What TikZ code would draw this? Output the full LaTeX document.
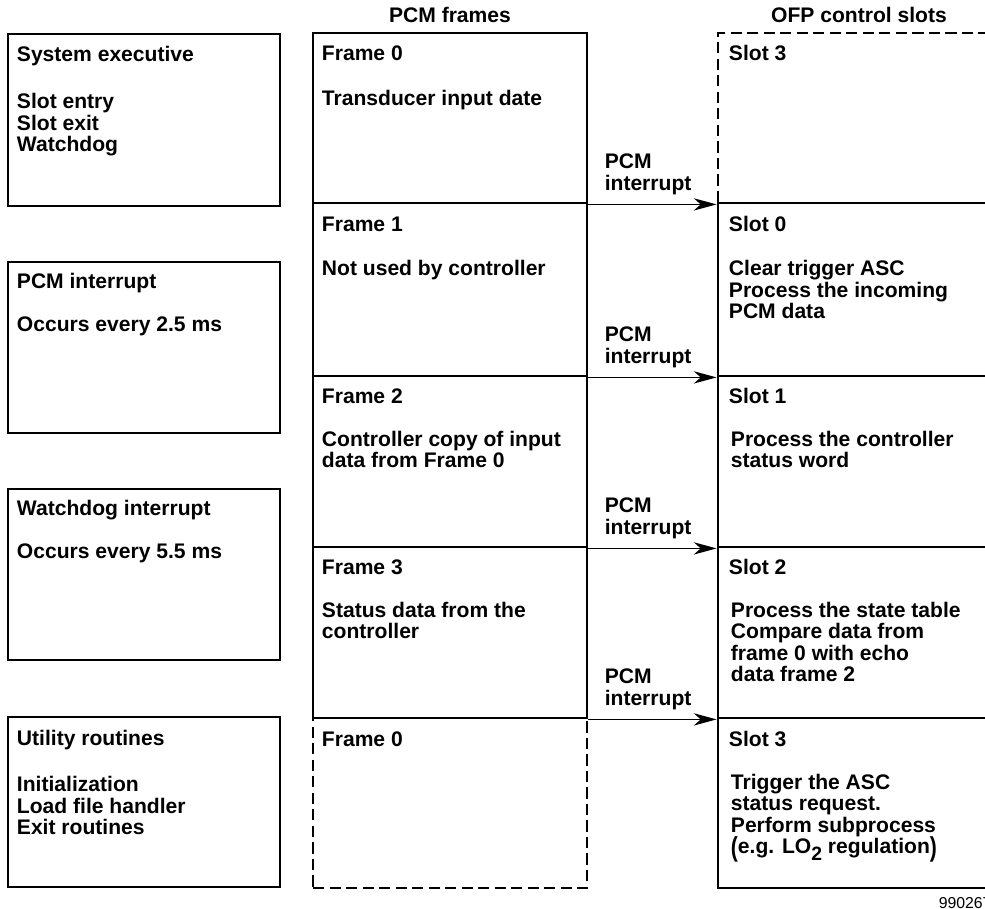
\documentclass[tikz,border=0pt]{standalone}
\usepackage{fontspec}
\setmainfont{Liberation Sans}
\usepackage{tikz}
\usetikzlibrary{arrows.meta,calc,positioning,fit}
\newcommand{\lotwo}{LO\smash{\raisebox{-4pt}{\fontsize{11}{11}\selectfont 2}}}
\newcommand{\tallparen}[1]{\smash{\raisebox{-1.6pt}{\scalebox{1}[1.3]{#1}}}}

\begin{document}
\begin{tikzpicture}[
    x=0.02cm, y=-0.02cm,
    box/.style={draw, line width=1.6pt, inner sep=0, rectangle},
    dashbox/.style={box, dash pattern=on 6.4pt off 3pt},
    txt/.style={anchor=base west, inner sep=0, align=left,
        font=\fontsize{12}{12.2}\selectfont\bfseries},
    head/.style={anchor=base, inner sep=0, font=\fontsize{12}{12.2}\selectfont\bfseries},
    irq/.style={draw, line width=0.8pt, -{Stealth[length=13pt,width=7pt,inset=4pt]}}]
\useasboundingbox (0,0) rectangle (985,909);
\clip (0,0) rectangle (985,909);

% left column
\node[box, fit={(8,34) (280,206)}]  (sysexec) {};
\node[box, fit={(8,262) (280,433)}] (pcmirq) {};
\node[box, fit={(8,489) (280,660)}] (wdirq) {};
\node[box, fit={(8,717) (280,887)}] (utility) {};

% multi-line texts sit on their last baseline
\node[txt] (sysexec-t) at ([shift={(10,29)}]sysexec.north west) {System executive};
\node[txt] (sysexec-b) at ([shift={(10,119)}]sysexec.north west) {Slot entry\\Slot exit\\Watchdog};
\node[txt] (pcmirq-t)  at ([shift={(10,28)}]pcmirq.north west) {PCM interrupt};
\node[txt] (pcmirq-b)  at ([shift={(10,71)}]pcmirq.north west) {Occurs every 2.5 ms};
\node[txt] (wdirq-t)   at ([shift={(10,28)}]wdirq.north west) {Watchdog interrupt};
\node[txt] (wdirq-b)   at ([shift={(10,71)}]wdirq.north west) {Occurs every 5.5 ms};
\node[txt] (utility-t) at ([shift={(10,30)}]utility.north west) {Utility routines};
\node[txt] (utility-b) at ([shift={(10,119)}]utility.north west) {Initialization\\Load file handler\\Exit routines};

% PCM frames
\node[box, fit={(313,33) (587,203)}]  (frame0) {};
\node[box, fit={(313,203) (587,376)}] (frame1) {};
\node[box, fit={(313,376) (587,547)}] (frame2) {};
\node[box, fit={(313,547) (587,718)}] (frame3) {};
\node[dashbox, fit={(313,718) (587,888)}] (frame4) {};
\node[head] (framehead) at ([shift={(0,-9)}]frame0.north) {PCM frames};

\node[txt] (frame0-t) at ([shift={(10,29)}]frame0.north west) {Frame 0};
\node[txt] (frame0-b) at ([shift={(10,74)}]frame0.north west) {Transducer input date};
\node[txt] (frame1-t) at ([shift={(10,30)}]frame1.north west) {Frame 1};
\node[txt] (frame1-b) at ([shift={(10,74)}]frame1.north west) {Not used by controller};
\node[txt] (frame2-t) at ([shift={(10,29)}]frame2.north west) {Frame 2};
\node[txt] (frame2-b) at ([shift={(10,93)}]frame2.north west) {Controller copy of input\\data from Frame 0};
\node[txt] (frame3-t) at ([shift={(10,29)}]frame3.north west) {Frame 3};
\node[txt] (frame3-b) at ([shift={(10,93)}]frame3.north west) {Status data from the\\controller};
\node[txt] (frame4-t) at ([shift={(10,30)}]frame4.north west) {Frame 0};

% OFP control slots
\node[dashbox, fit={(718,33) (1000,203)}] (slot3a) {};
\node[box, fit={(718,203) (1000,376)}] (slot0) {};
\node[box, fit={(718,376) (1000,547)}] (slot1) {};
\node[box, fit={(718,547) (1000,718)}] (slot2) {};
\node[box, fit={(718,718) (1000,888)}] (slot3b) {};
\node[head] (slothead) at ([shift={(0,-9)}]slot3a.north) {OFP control slots};

\node[txt] (slot3a-t) at ([shift={(12,29)}]slot3a.north west) {Slot 3};
\node[txt] (slot0-t)  at ([shift={(12,30)}]slot0.north west) {Slot 0};
\node[txt] (slot0-b)  at ([shift={(12,117)}]slot0.north west) {Clear trigger ASC\\Process the incoming\\PCM data};
\node[txt] (slot1-t)  at ([shift={(12,29)}]slot1.north west) {Slot 1};
\node[txt] (slot1-b)  at ([shift={(14,93)}]slot1.north west) {Process the controller\\status word};
\node[txt] (slot2-t)  at ([shift={(12,29)}]slot2.north west) {Slot 2};
\node[txt] (slot2-b)  at ([shift={(14,136)}]slot2.north west) {Process the state table\\Compare data from\\frame 0 with echo\\data frame 2};
\node[txt] (slot3b-t) at ([shift={(12,30)}]slot3b.north west) {Slot 3};
\node[txt] (slot3b-b) at ([shift={(14,137)}]slot3b.north west) {Trigger the ASC\\status request.\\Perform subprocess\\\tallparen{(}e.g. \lotwo{} regulation\tallparen{)}};

% interrupts
\foreach \f/\s in {frame0/slot3a, frame1/slot0, frame2/slot1, frame3/slot2}{
    \path[irq] (\f.south east) -- (\s.south west);
    \node[txt] (\f-irq) at ([shift={(16,-14)}]\f.south east) {PCM\\interrupt};
}

\node[anchor=base west, inner sep=0, font=\fontsize{9}{10}\selectfont] (fignum)
    at ([shift={(-63,19)}]slot3b.south east) {990267};

\end{tikzpicture}
\end{document}
